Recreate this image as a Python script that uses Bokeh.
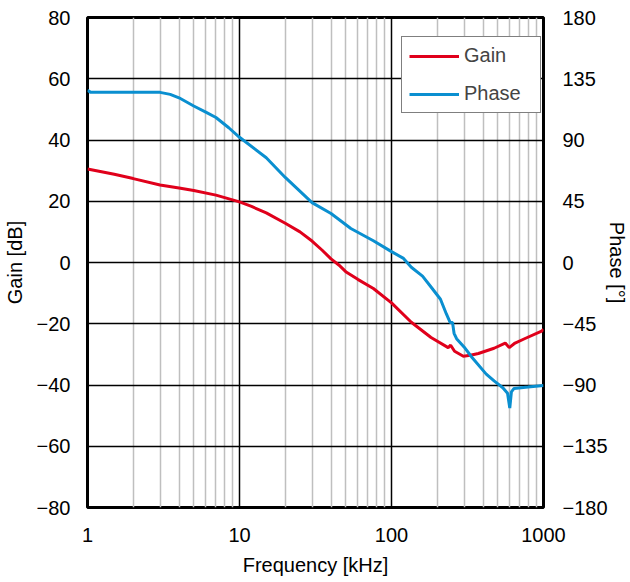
from bokeh.plotting import figure
from bokeh.models import (Range1d, LinearAxis, FixedTicker, PrintfTickFormatter,
                          Legend, LegendItem)
from bokeh.embed import file_html
from bokeh.resources import INLINE

# ---- data ----
gain_freq = [1, 1.5, 2, 3, 4, 5, 7, 10, 12, 15, 20, 25, 30, 35, 40, 45, 50, 60, 76,
             100, 135, 182, 236, 245, 260, 297, 330, 373, 473, 560, 595, 650, 750, 980, 1000]
gain_db = [30.5, 28.8, 27.4, 25.3, 24.3, 23.5, 22.0, 19.8, 18.3, 16.2, 12.8, 10.0, 7.0, 4.0,
           1.2, -0.8, -3.0, -5.5, -8.5, -13.2, -19.5, -24.5, -27.8, -27.0, -29.0, -30.6, -30.3,
           -29.7, -28.0, -26.3, -27.8, -26.3, -24.9, -22.3, -21.8]

phase_freq = [1, 1.05, 3, 3.5, 4, 5, 6, 7, 8.5, 10, 15, 20, 30, 40, 54, 76, 100, 120, 135, 160,
              182, 210, 230, 243, 252, 258, 268, 300, 340, 420, 473, 540, 580, 600, 615, 640,
              790, 1000]
phase_deg = [126.5, 125, 125, 123.5, 121, 115, 110.5, 106.5, 99, 92, 77, 62.5, 44, 36, 25, 16,
             8, 3, -3.5, -10, -18, -27, -38, -44, -44, -52, -56, -62, -70, -82, -87, -92, -96,
             -107, -95, -92.5, -91.5, -90.3]

x_major = [1, 10, 100, 1000]
x_minor = [m * d for d in (1, 10, 100) for m in range(2, 10)]
gain_ticks = list(range(-80, 81, 20))
phase_ticks = list(range(-180, 181, 45))

FONT = "Liberation Sans"
FS = "20px"
RED = "#E0001B"
BLUE = "#0A8FD0"

p = figure(x_axis_type="log", x_range=Range1d(1, 1000), y_range=Range1d(-80, 80),
           width=630, height=582, output_backend="svg", toolbar_location=None,
           min_border_left=87, min_border_right=87, min_border_top=17, min_border_bottom=75,
           background_fill_color="white", border_fill_color="white")

p.extra_y_ranges = {"phase": Range1d(-180, 180)}

p.xaxis.ticker = FixedTicker(ticks=x_major, minor_ticks=x_minor)
p.xaxis.formatter = PrintfTickFormatter(format="%d")
p.xaxis.axis_label = "Frequency [kHz]"
p.yaxis.ticker = FixedTicker(ticks=gain_ticks)
p.yaxis.axis_label = "Gain [dB]"

raxis = LinearAxis(y_range_name="phase", ticker=FixedTicker(ticks=phase_ticks),
                   axis_label="Phase [°]")
p.add_layout(raxis, "right")

for ax in [p.xaxis[0], p.yaxis[0], raxis]:
    ax.axis_line_color = None
    ax.major_tick_line_color = None
    ax.minor_tick_line_color = None
    ax.major_tick_out = 0
    ax.major_tick_in = 0
    ax.minor_tick_out = 0
    ax.minor_tick_in = 0
    ax.major_label_text_font = FONT
    ax.major_label_text_font_size = FS
    ax.major_label_text_color = "black"
    ax.axis_label_text_font = FONT
    ax.axis_label_text_font_size = FS
    ax.axis_label_text_font_style = "normal"
    ax.axis_label_text_color = "black"

p.xaxis.major_label_standoff = 20
p.xaxis.axis_label_standoff = 9
p.yaxis.major_label_standoff = 17
p.yaxis.axis_label_standoff = 8
raxis.major_label_standoff = 19
raxis.axis_label_standoff = -5

p.xgrid.grid_line_color = "black"
p.xgrid.grid_line_width = 1.5
p.xgrid.minor_grid_line_color = "#bfbfbf"
p.xgrid.minor_grid_line_width = 1.5
p.ygrid.grid_line_color = "black"
p.ygrid.grid_line_width = 1.5

p.outline_line_color = "black"
p.outline_line_width = 3
p.outline_line_alpha = 1

gl = p.line(gain_freq, gain_db, line_color=RED, line_width=3)
pl = p.line(phase_freq, phase_deg, line_color=BLUE, line_width=3, y_range_name="phase")

legend = Legend(items=[LegendItem(label="Gain", renderers=[gl]),
                       LegendItem(label="Phase", renderers=[pl])],
                location=(314, 394), orientation="vertical",
                glyph_width=50, glyph_height=20, label_height=20, label_width=69,
                label_standoff=5, spacing=15, padding=7, margin=0,
                label_text_font=FONT, label_text_font_size=FS,
                border_line_color="black", border_line_width=1.2,
                background_fill_color="white", background_fill_alpha=1)
p.add_layout(legend, "center")

open("out.html", "w").write(file_html(p, INLINE))
